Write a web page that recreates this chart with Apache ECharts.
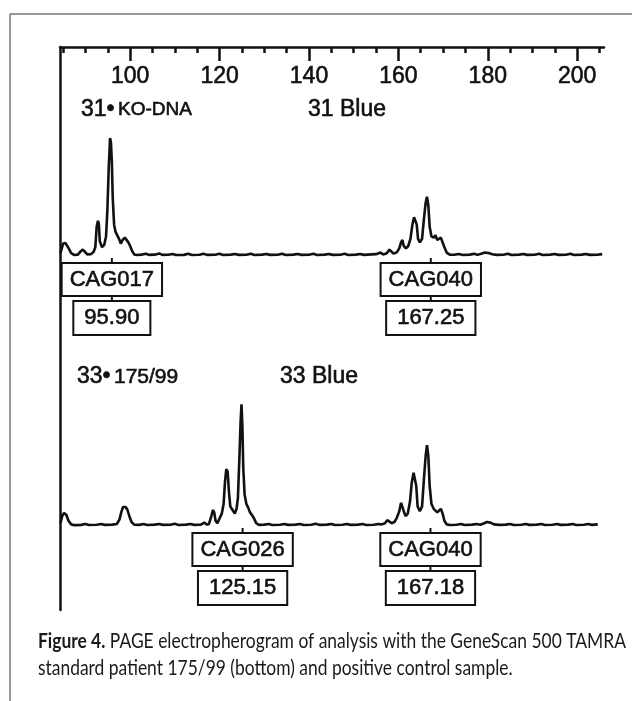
<!DOCTYPE html>
<html><head><meta charset="utf-8">
<script src="https://cdn.jsdelivr.net/npm/echarts@6/dist/echarts.min.js"></script>
<style>html,body{margin:0;padding:0;background:#fff}#c{width:632px;height:701px}</style>
</head><body><div id="c"></div>
<script>
// ---- data ----
const majorTicks = [100, 120, 140, 160, 180, 200];
const minorTicks = [85, 90, 95, 105, 110, 115, 125, 130, 135, 145, 150, 155, 165, 170, 175, 185, 190, 195, 205];
const topTrace = [[84.4,4],[85.0,12],[85.5,12.5],[86.1,9],[86.8,4],[87.5,2.5],[88.3,2.8],[88.9,5.5],[89.4,7],[89.9,5],[90.4,3],[91.2,3.2],[91.8,5],[92.2,9],[92.5,26],[92.8,31],[93.0,28],[93.2,14],[93.7,9],[94.2,11],[94.6,18],[94.9,40],[95.2,75],[95.5,100],[95.7,96],[95.9,80],[96.1,50],[96.4,28],[96.7,22],[97.1,21],[97.5,16],[97.9,12],[98.3,15],[98.8,17],[99.2,17],[99.6,13],[100.0,10],[100.4,6],[100.9,3],[101.5,2.5],[102.5,2.8],[103.5,3.6],[104.2,2.6],[105.5,2.8],[106.5,3.8],[107.2,2.6],[108.5,2.7],[109.5,3.4],[110.2,2.5],[112,2.6],[113,3.5],[113.8,2.5],[115.5,2.7],[116.4,3.6],[117.2,2.6],[119,2.7],[120,3.5],[120.8,2.5],[122.5,2.8],[123.5,3.4],[124.3,2.6],[126,2.7],[127,3.5],[127.8,2.5],[129.5,2.8],[130.5,3.4],[131.3,2.6],[133,2.7],[134,3.5],[134.8,2.5],[136.5,2.8],[137.5,3.4],[138.3,2.6],[140,2.7],[141,3.5],[141.8,2.5],[143.5,2.8],[144.5,3.4],[145.3,2.6],[147,2.7],[148,3.5],[148.8,2.5],[150.5,2.8],[151.5,3.4],[152.3,2.6],[154,3],[155,3.2],[156,4.5],[156.6,3],[157.4,4],[158.0,7],[158.4,6],[158.9,3.8],[159.6,4.5],[160.2,8],[160.6,13],[160.9,15],[161.2,10],[161.7,8],[162.2,10],[162.7,16],[163.1,27],[163.5,34],[163.8,35],[164.1,28],[164.4,16],[164.8,13],[165.3,16],[165.7,32],[166.1,46],[166.4,51],[166.7,44],[167.0,26],[167.4,18],[167.9,17],[168.3,19],[168.7,15],[169.1,14],[169.5,17],[169.9,16],[170.3,9],[170.8,4.5],[171.5,2.8],[172.5,2.7],[173.5,3.4],[174.5,2.5],[176,2.8],[177,3.6],[177.7,2.6],[178.7,3.8],[179.3,4.5],[180.2,4.2],[181,3.2],[182,2.6],[183.5,2.7],[184.5,3.5],[185.3,2.5],[187,2.8],[188,3.4],[188.8,2.6],[190.5,2.7],[191.5,3.5],[192.3,2.5],[194,2.8],[195,3.4],[195.8,2.6],[197.5,2.7],[198.5,3.5],[199.3,2.5],[201,2.8],[202,3.4],[202.8,2.6],[204.5,2.7],[205.6,3.2]];
const bottomTrace = [[84.4,4],[84.8,10],[85.2,12.5],[85.7,11],[86.2,6],[86.8,3],[87.5,2.4],[89,2.6],[90,3.4],[90.8,2.5],[92.5,2.7],[93.5,3.3],[94.3,2.6],[96,2.8],[97.0,3.3],[97.6,7],[98.0,13],[98.4,17.5],[99.0,17.5],[99.4,15],[99.8,10],[100.3,5],[100.9,2.8],[102,2.6],[103,3.4],[103.8,2.5],[105.5,2.8],[106.5,3.3],[107.3,2.6],[109,2.7],[110,3.5],[110.8,2.5],[112.5,2.8],[113.5,3.3],[114.3,2.6],[115.8,2.8],[116.6,4.5],[117.1,3],[117.6,3.2],[118.1,9],[118.5,15],[118.8,13],[119.1,6],[119.5,4],[120.0,8],[120.5,12],[120.9,20],[121.2,38],[121.5,49],[121.8,47],[122.1,30],[122.4,18],[122.9,15],[123.4,12],[123.8,16],[124.1,25],[124.4,55],[124.7,88],[124.9,103],[125.1,85],[125.3,50],[125.6,28],[126.0,20],[126.4,17],[126.8,13],[127.2,11],[127.7,8],[128.2,4],[128.8,2.6],[130,2.8],[131,3.4],[131.8,2.5],[133.5,2.7],[134.5,3.4],[135.3,2.6],[137,2.8],[138,3.3],[138.8,2.5],[140.5,2.7],[141.5,3.5],[142.3,2.6],[144,2.8],[145,3.4],[145.8,2.5],[147.5,2.7],[148.5,3.3],[149.3,2.6],[151,2.8],[152,3.4],[152.8,2.5],[154.5,2.7],[155.5,3.4],[156.3,3],[157.0,4],[157.5,6.5],[157.9,5],[158.5,4],[159.1,5],[159.6,8],[160.2,14],[160.6,21],[160.9,22],[161.2,14],[161.6,10],[162.1,12],[162.6,22],[163.0,38],[163.4,46],[163.7,46],[164.0,35],[164.3,18],[164.8,14],[165.3,18],[165.7,40],[166.1,60],[166.4,69],[166.7,60],[167.0,35],[167.4,20],[167.9,16],[168.3,17],[168.7,13],[169.1,14],[169.5,16],[169.9,12],[170.3,6],[170.8,3],[171.5,2.5],[173,2.7],[174,3.4],[174.8,2.5],[176.5,2.8],[177.5,3.3],[178.3,2.7],[179.2,4],[179.8,5],[180.6,4.5],[181.4,3],[182.5,2.6],[184,2.8],[185,3.4],[185.8,2.5],[187.5,2.7],[188.5,3.3],[189.3,2.6],[191,2.8],[192,3.4],[192.8,2.5],[194.5,2.7],[195.5,3.3],[196.3,2.6],[198,2.8],[199,3.4],[199.8,2.5],[201.5,2.7],[202.5,3.3],[203.3,2.6],[204.6,3]];
const topAlleleNames = ['CAG017', 'CAG040'];
const topAlleleSizes = [95.90, 167.25];
const bottomAlleleNames = ['CAG026', 'CAG040'];
const bottomAlleleSizes = [125.15, 167.18];
const topSampleId = '31', topSampleName = 'KO-DNA', topDye = '31 Blue';
const bottomSampleId = '33', bottomSampleName = '175/99', bottomDye = '33 Blue';
const captionBold = 'Figure 4.';
const captionRest = ' PAGE electropherogram of analysis with the GeneScan 500 TAMRA';
const captionLine2 = 'standard patient 175/99 (bottom) and positive control sample.';

// ---- layout ----
const INK = '#111';
const FONT = '"Liberation Sans", Arial, Helvetica, sans-serif';
const X_MIN = 84.3, X_MAX = 206;
const GL = 60, GR = 28;
const HEAVY = { stroke: INK, lineWidth: 0.6 };

function alleleRender(names) {
  return function (params, api) {
    const v = api.value(0);
    const i = api.value(2);
    const p = api.coord([v, 0]);
    const px = p[0], py = p[1];
    const boxStyle = {
      align: 'center', verticalAlign: 'top', font: '22px ' + FONT, fill: INK,
      borderColor: INK, borderWidth: 2, lineHeight: 24, backgroundColor: '#fff',
      stroke: INK, lineWidth: 0.6
    };
    return {
      type: 'group',
      children: [
        { type: 'line', shape: { x1: px, y1: py, x2: px, y2: py + 6 }, style: { stroke: INK, lineWidth: 2 } },
        { type: 'text', x: px, y: py + 6, style: Object.assign({}, boxStyle, { text: names[i], padding: [4, 7, 3, 7] }) },
        { type: 'line', shape: { x1: px, y1: py + 37, x2: px, y2: py + 44 }, style: { stroke: INK, lineWidth: 2 } },
        { type: 'text', x: px, y: py + 44, style: Object.assign({}, boxStyle, { text: v.toFixed(2), padding: [4, 10, 4, 10] }) }
      ]
    };
  };
}

// caption width fitting
const mctx = document.createElement('canvas').getContext('2d');
const CAP_SIZE = 21, CAP_FONT = 'Lato, "Open Sans", sans-serif';
mctx.font = 'bold ' + CAP_SIZE + 'px ' + CAP_FONT;
let w1 = mctx.measureText(captionBold).width;
mctx.font = CAP_SIZE + 'px ' + CAP_FONT;
w1 += mctx.measureText(captionRest).width;
const capScale = 588 / w1;

const chart = echarts.init(document.getElementById('c'), null, { renderer: 'canvas' });
const hiddenX = (gi) => ({ type: 'value', gridIndex: gi, min: X_MIN, max: X_MAX, show: false });
const hiddenY = (gi) => ({ type: 'value', gridIndex: gi, min: 0, max: 110, show: false });

chart.setOption({
  animation: false,
  backgroundColor: '#fff',
  grid: [
    { left: GL, right: GR, top: 47, height: 563 },
    { left: GL, right: GR, top: 126, height: 132 },
    { left: GL, right: GR, top: 396, height: 132 }
  ],
  xAxis: [
    {
      type: 'value', gridIndex: 0, position: 'top', min: X_MIN, max: X_MAX,
      axisLine: { show: true, onZero: false, lineStyle: { color: INK, width: 2.5 } },
      axisTick: { show: true, inside: true, length: 14, customValues: majorTicks, lineStyle: { color: INK, width: 2.5 } },
      axisLabel: { show: true, inside: true, margin: 18, customValues: majorTicks, color: INK, fontSize: 23, fontFamily: FONT,
        textBorderColor: INK, textBorderWidth: 0.6 },
      splitLine: { show: false }
    },
    {
      type: 'value', gridIndex: 0, position: 'top', min: X_MIN, max: X_MAX,
      axisLine: { show: false, onZero: false },
      axisTick: { show: true, inside: true, length: 6, customValues: minorTicks, lineStyle: { color: INK, width: 2.5 } },
      axisLabel: { show: false },
      splitLine: { show: false }
    },
    hiddenX(1), hiddenX(2)
  ],
  yAxis: [
    {
      type: 'value', gridIndex: 0, min: 0, max: 1, position: 'left',
      axisLine: { show: true, onZero: false, lineStyle: { color: INK, width: 2.5 } },
      axisTick: { show: false }, axisLabel: { show: false }, splitLine: { show: false }
    },
    hiddenY(1), hiddenY(2)
  ],
  series: [
    { type: 'line', xAxisIndex: 2, yAxisIndex: 1, data: topTrace, showSymbol: false, symbol: 'none', clip: false,
      lineStyle: { color: INK, width: 2.6 }, z: 3 },
    { type: 'line', xAxisIndex: 3, yAxisIndex: 2, data: bottomTrace, showSymbol: false, symbol: 'none', clip: false,
      lineStyle: { color: INK, width: 2.6 }, z: 3 },
    { type: 'custom', xAxisIndex: 2, yAxisIndex: 1, renderItem: alleleRender(topAlleleNames), clip: false,
      data: topAlleleSizes.map((s, i) => [s, 0, i]), z: 4 },
    { type: 'custom', xAxisIndex: 3, yAxisIndex: 2, renderItem: alleleRender(bottomAlleleNames), clip: false,
      data: bottomAlleleSizes.map((s, i) => [s, 0, i]), z: 4 }
  ],
  graphic: [
    { type: 'line', shape: { x1: 10, y1: 14, x2: 632, y2: 14 }, style: { stroke: '#777', lineWidth: 1.5 } },
    { type: 'line', shape: { x1: 10, y1: 14, x2: 10, y2: 701 }, style: { stroke: '#777', lineWidth: 1.5 } },
    { type: 'text', x: 81, y: 110, style: { text: '{a|' + topSampleId + '•} {b|' + topSampleName + '}', verticalAlign: 'middle',
        rich: { a: Object.assign({ font: '23px ' + FONT, fill: INK }, HEAVY), b: Object.assign({ font: '19px ' + FONT, fill: INK }, HEAVY) } } },
    { type: 'text', x: 308, y: 110, style: Object.assign({ text: topDye, verticalAlign: 'middle', font: '23px ' + FONT, fill: INK }, HEAVY) },
    { type: 'text', x: 77, y: 377, style: { text: '{a|' + bottomSampleId + '•} {b|' + bottomSampleName + '}', verticalAlign: 'middle',
        rich: { a: Object.assign({ font: '23px ' + FONT, fill: INK }, HEAVY), b: Object.assign({ font: '21px ' + FONT, fill: INK }, HEAVY) } } },
    { type: 'text', x: 280, y: 377, style: Object.assign({ text: bottomDye, verticalAlign: 'middle', font: '23px ' + FONT, fill: INK }, HEAVY) },
    { type: 'text', x: 38, y: 641, scaleX: capScale, style: { text: '{b|' + captionBold + '}{n|' + captionRest + '}', verticalAlign: 'middle',
        rich: { b: { font: 'bold ' + CAP_SIZE + 'px ' + CAP_FONT, fill: '#1a1a1a' }, n: { font: CAP_SIZE + 'px ' + CAP_FONT, fill: '#1a1a1a' } } } },
    { type: 'text', x: 38, y: 668, scaleX: capScale, style: { text: captionLine2, verticalAlign: 'middle', font: CAP_SIZE + 'px ' + CAP_FONT, fill: '#1a1a1a' } }
  ]
});
</script>
</body></html>
